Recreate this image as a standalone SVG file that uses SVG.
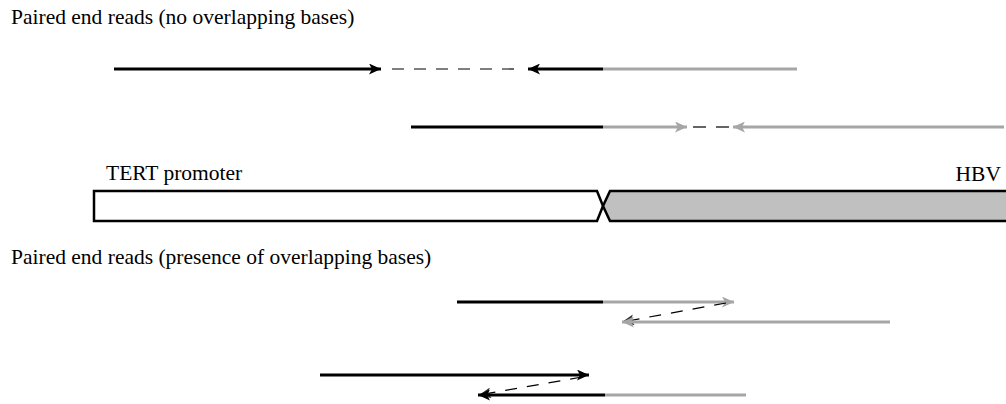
<svg xmlns="http://www.w3.org/2000/svg" width="1006" height="404" viewBox="0 0 1006 404">
<style>
text{font-family:"Liberation Serif","Times New Roman",serif;font-size:21.5px;fill:#000}
.bk{stroke:#000;stroke-width:2.8;fill:none}
.gr{stroke:#a6a6a6;stroke-width:2.8;fill:none}
.ds{stroke:#000;stroke-width:1.2;stroke-dasharray:12,10;fill:none}
.dsg{stroke:#333;stroke-width:1.3;stroke-dasharray:13,10;fill:none}
</style>
<defs>
<marker id="ab" markerUnits="userSpaceOnUse" markerWidth="13" markerHeight="11" refX="12" refY="5.5" orient="auto">
<path d="M0,0 L12,5.5 L0,11 L3,5.5 Z" fill="#000"/>
</marker>
<marker id="ag" markerUnits="userSpaceOnUse" markerWidth="13" markerHeight="11" refX="12" refY="5.5" orient="auto">
<path d="M0,0 L12,5.5 L0,11 L3,5.5 Z" fill="#a6a6a6"/>
</marker>
<marker id="ad" markerUnits="userSpaceOnUse" markerWidth="13" markerHeight="11" refX="12" refY="5.5" orient="auto">
<path d="M0,0 L12,5.5 L0,11 L3,5.5 Z" fill="#333"/>
</marker>
</defs>
<g id="labels">
<text x="11" y="24">Paired end reads (no overlapping bases)</text>
<text x="11" y="264">Paired end reads (presence of overlapping bases)</text>
</g>
<g id="tert">
<path d="M94,191 L597,191 L603,206 L597,221 L94,221 Z" fill="#fff" stroke="#000" stroke-width="2.5"/>
<text x="106" y="180">TERT promoter</text>
</g>
<g id="hbv">
<path d="M1010,191 L610,191 L603,206 L610,221 L1010,221" fill="#c0c0c0" stroke="#000" stroke-width="2.5"/>
<text x="1001" y="181" text-anchor="end">HBV</text>
</g>
<g id="connectors">
<!-- row 1 -->
<line class="bk" x1="114" y1="69" x2="381" y2="69" marker-end="url(#ab)"/>
<line class="ds" x1="392" y1="69" x2="522" y2="69"/>
<line class="bk" x1="603" y1="69" x2="528" y2="69" marker-end="url(#ab)"/>
<line class="gr" x1="603" y1="69" x2="797" y2="69"/>
<!-- row 2 -->
<line class="bk" x1="411" y1="127" x2="603" y2="127"/>
<line class="gr" x1="603" y1="127" x2="687" y2="127" marker-end="url(#ag)"/>
<line class="dsg" x1="693" y1="127" x2="729" y2="127"/>
<line class="gr" x1="1004" y1="127" x2="733" y2="127" marker-end="url(#ag)"/>
<!-- row 3 -->
<line class="bk" x1="457" y1="302" x2="603" y2="302"/>
<line class="gr" x1="603" y1="302" x2="734" y2="302" marker-end="url(#ag)"/>
<line class="ds" x1="726" y1="303" x2="622" y2="322" marker-end="url(#ad)"/>
<line class="gr" x1="890" y1="322" x2="622" y2="322" marker-end="url(#ag)"/>
<!-- row 4 -->
<line class="bk" x1="320" y1="375" x2="589" y2="375" marker-end="url(#ab)"/>
<line class="ds" x1="582" y1="377" x2="479" y2="395" marker-end="url(#ad)"/>
<line class="bk" x1="605" y1="395" x2="478" y2="395" marker-end="url(#ab)"/>
<line class="gr" x1="605" y1="395" x2="746" y2="395"/>
</g>
</svg>
